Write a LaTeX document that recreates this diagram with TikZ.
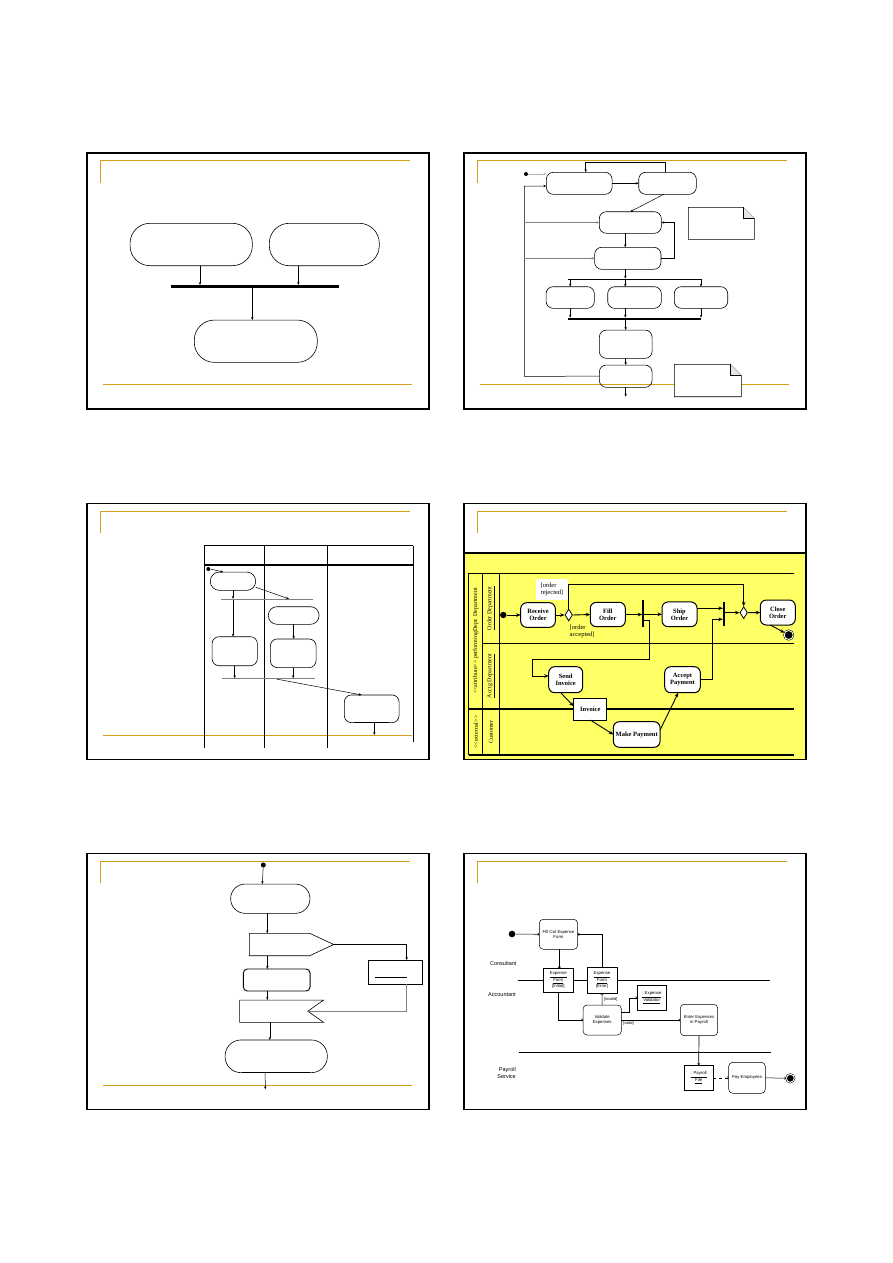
\documentclass[tikz,border=0pt]{standalone}
\usepackage{fontspec}
\setmainfont{Liberation Serif}
\newfontfamily\umlsans{Liberation Sans}
\usetikzlibrary{positioning,shapes.geometric,shapes.symbols,arrows.meta}
\definecolor{rulegold}{RGB}{212,160,23}
\definecolor{laneyellow}{RGB}{255,255,102}
\tikzset{
  slide/.style={draw, line width=1.6pt},
  rule/.style={draw=rulegold, line width=0.9pt},
  act/.style={rectangle, draw, line width=0.6pt, inner sep=0pt, outer sep=0pt},
  actr/.style={act, rounded corners=7pt},
  bar/.style={rectangle, fill=black, inner sep=0pt, outer sep=0pt},
  initial/.style={circle, fill=black, inner sep=0pt},
  final/.style={circle, draw, fill=black, line width=0.5pt, double=white, double distance=0.9pt, inner sep=0pt},
  note/.style={rectangle, inner sep=0pt, outer sep=0pt},
  flow/.style={-{Stealth[length=3pt,width=2.4pt]}, line width=0.5pt},
  bigflow/.style={-{Stealth[length=4.5pt,width=3.6pt]}, line width=0.9pt},
  openflow/.style={-{To[length=1.8pt,width=3pt]}, line width=0.5pt},
  lane/.style={line width=1.3pt},
  deptact/.style={act, fill=white, line width=1pt, rounded corners=6pt, align=center, font=\fontsize{6.5}{7}\selectfont\bfseries},
  expact/.style={act, fill=white, line width=0.5pt, rounded corners=4pt, align=center, font=\umlsans\fontsize{4.3}{5}\selectfont},
  expobj/.style={act, fill=white, line width=0.5pt, align=center, font=\umlsans\fontsize{4.3}{5}\selectfont},
  lanelabel/.style={font=\umlsans\fontsize{5.5}{6.5}\selectfont, inner sep=0pt},
  vlabel/.style={rotate=90, inner sep=0pt, font=\fontsize{6}{7}\selectfont}
}

\begin{document}
\begin{tikzpicture}[x=1pt, y=-1pt]
\useasboundingbox (0,0) rectangle (893,1263);

% yellow area of the swimlane slide
\fill[laneyellow] (463.7,552.7) rectangle (805.3,759.3);

% slide frames and gold rules
\foreach \xa/\ya in {86.7/152.7, 463.7/152.7, 86.7/503.3, 463.7/503.3, 86.7/853.3, 463.7/853.3}{
  \draw[slide] (\xa,\ya) rectangle ++(342.3,256);
  \draw[rule] (\xa+13.6,\ya+30) -- ++(0,-22) -- ++(309.7,0);
}
\foreach \xa/\ya in {86.7/152.7, 463.7/152.7, 86.7/503.3, 86.7/853.3}
  \draw[rule] (\xa+16,\ya+231.8) -- ++(309.5,0);

% slide 1: join
\node[act, rounded corners=20pt, minimum width=122.3pt, minimum height=42.4pt] (s1a) at (191.2,244.5) {};
\node[act, rounded corners=20pt, minimum width=110pt, minimum height=42.4pt] (s1b) at (324.3,244.5) {};
\node[bar, minimum width=168pt, minimum height=2.6pt] (s1join) at (255,286.3) {};
\node[act, rounded corners=20pt, minimum width=123pt, minimum height=42.3pt] (s1c) at (255.8,341.2) {};
\draw[flow] ([xshift=8.8pt]s1a.south) -- ([xshift=8.8pt]s1a.south |- s1join.north);
\draw[flow] ([xshift=-26pt]s1b.south) -- ([xshift=-26pt]s1b.south |- s1join.north);
\draw[flow] ([xshift=-2.7pt]s1join.south) -- ([xshift=-2.7pt]s1join.south |- s1c.north);

% slide 2: loops, fork and join
\node[initial, minimum size=4pt] (s2i) at (526,174) {};
\node[actr, minimum width=65.7pt, minimum height=22pt] (s2a) at (579.2,183.3) {};
\node[actr, minimum width=57.6pt, minimum height=22pt] (s2b) at (667.5,183.3) {};
\node[actr, minimum width=62pt, minimum height=21.6pt] (s2c) at (630.3,222.5) {};
\node[actr, minimum width=66.3pt, minimum height=22pt] (s2d) at (627.8,258.3) {};
\node[bar, minimum width=132.7pt, minimum height=0.8pt] (s2fork) at (634.35,279) {};
\node[actr, minimum width=48.3pt, minimum height=21.6pt] (s2e) at (570.2,297.5) {};
\node[actr, minimum width=53.6pt, minimum height=21.6pt] (s2f) at (634.5,297.5) {};
\node[actr, minimum width=53.4pt, minimum height=21.6pt] (s2g) at (701,297.5) {};
\node[bar, minimum width=132.7pt, minimum height=2pt] (s2join) at (634.35,318.7) {};
\node[actr, minimum width=52.7pt, minimum height=28.3pt] (s2h) at (625.7,344.2) {};
\node[actr, minimum width=52.7pt, minimum height=22.3pt] (s2k) at (625.7,376.2) {};
\node[note, minimum width=66pt, minimum height=32pt] (s2n1) at (721.3,223.3) {};
\node[note, minimum width=67pt, minimum height=32.4pt] (s2n2) at (707.8,380.5) {};
\foreach \n in {s2n1,s2n2}{
  \draw[line width=0.6pt, fill=white] (\n.south west) -- (\n.north west) -- ([xshift=-11pt]\n.north east)
    -- ([yshift=-11pt]\n.north east) -- (\n.south east) -- cycle;
  \draw[line width=0.5pt, fill=gray!20] ([xshift=-11pt]\n.north east) -- ([xshift=-11pt,yshift=-11pt]\n.north east)
    -- ([yshift=-11pt]\n.north east);
}
\coordinate (s2lt) at (524.3,186);
\coordinate (s2lb) at (524.3,376.3);
\coordinate (s2end) at (625.7,396.7);
\draw[flow, draw=gray!60, line width=0.9pt] (s2i) -- (s2i -| s2a.west);
\draw[flow] (s2a.east) -- (s2b.west);
\draw[flow] ([xshift=-2pt]s2b.north) -- ++(0,-10) -| ([xshift=6.5pt]s2a.north);
\draw[flow] ([xshift=-3.8pt]s2b.south) -- (s2c.north);
\draw[flow] ([xshift=-5pt]s2c.south) -- ([xshift=-5pt]s2c.south |- s2d.north);
\draw[flow] (s2d.east) -- ++(13.3,0) |- (s2c.east);
\draw[flow] (s2k.west) -- (s2lb) -- (s2lt) -- ([yshift=-2.7pt]s2a.west);
\draw[flow, draw=gray] (s2lt |- s2c.west) -- (s2c.west);
\draw[flow, draw=gray] (s2lt |- s2d.west) -- (s2d.west);
\draw[flow] ([xshift=-2.5pt]s2d.south) -- ([xshift=-2.5pt]s2d.south |- s2fork.north);
\draw[flow] (s2fork.south -| s2e.north) -- (s2e.north);
\draw[flow] ([xshift=-9.2pt]s2f.north |- s2fork.south) -- ([xshift=-9.2pt]s2f.north);
\draw[flow] (s2fork.south -| s2g.north) -- (s2g.north);
\draw[flow] (s2e.south) -- (s2e.south |- s2join.north);
\draw[flow] ([xshift=-9.2pt]s2f.south) -- ([xshift=-9.2pt]s2f.south |- s2join.north);
\draw[flow] (s2g.south) -- (s2g.south |- s2join.north);
\draw[flow] (s2join.south -| s2h.north) -- (s2h.north);
\draw[flow] (s2h.south) -- (s2k.north);
\draw[flow] (s2k.south) -- (s2end);

% slide 3: partitions
\draw[line width=0.8pt] (204.3,545.7) -- (413.3,545.7);
\draw[line width=1.2pt] (204.3,565) -- (413.3,565);
\foreach \xl/\yl in {204.3/747.7, 264/747.7, 327.7/747.7, 413.3/741.7}
  \draw[line width=0.8pt] (\xl,545.7) -- (\xl,\yl);
\node[initial, minimum size=4pt] (s3i) at (208.3,569) {};
\node[act, rounded corners=9pt, minimum width=45.4pt, minimum height=18.3pt] (s3a) at (233,581.2) {};
\node[bar, fill=gray, minimum width=92pt, minimum height=0.8pt] (s3fork) at (266.7,599.3) {};
\node[act, rounded corners=8.5pt, minimum width=50.7pt, minimum height=17.6pt] (s3b) at (293.7,615.5) {};
\node[actr, minimum width=45.3pt, minimum height=29pt] (s3c) at (234.7,651.2) {};
\node[actr, minimum width=45.7pt, minimum height=28.7pt] (s3d) at (293.2,653.3) {};
\node[bar, fill=gray, minimum width=92.7pt, minimum height=0.8pt] (s3join) at (268.7,678.7) {};
\node[actr, minimum width=54.7pt, minimum height=27.7pt] (s3e) at (371.7,708.8) {};
\coordinate (s3end) at (374.3,735);
\draw[line width=1.5pt] ([xshift=-17.4pt]s3e.south) -- ([xshift=17.6pt]s3e.south);
\draw[flow] (s3i.east) -- ([xshift=-9.7pt]s3a.north);
\draw[flow] (s3a.south) -- (s3a.south |- s3fork.north);
\draw[flow] ([yshift=-6pt]s3a.east) -- ([xshift=-4.7pt]s3b.north |- s3fork.north);
\draw[flow] (s3fork.south -| s3a.south) -- (s3a.south |- s3c.north);
\draw[flow] (s3b.south) -- (s3b.south |- s3d.north);
\draw[flow] (s3c.south) -- (s3c.south |- s3join.north);
\draw[flow] (s3d.south) -- (s3d.south |- s3join.north);
\draw[flow] ([xshift=8pt]s3join.south) -- ([xshift=-10pt]s3e.north);
\draw[flow] ([xshift=2.6pt]s3e.south) -- (s3end);

% slide 4: swimlanes
\draw[line width=1.6pt] (463.7,552.7) -- (805.3,552.7);
\draw[lane] (468.7,573.3) -- (794.3,573.3);
\draw[lane] (482.7,643.3) -- (794.3,643.3);
\draw[lane] (468.7,709) -- (794.3,709);
\draw[lane] (468.7,755) -- (794.3,755);
\foreach \xl in {468.7, 482.7, 499.3}
  \draw[line width=1pt] (\xl,573.3) -- (\xl,755);
\node[vlabel] (s4v1) at (475.7,641) {<\kern0pt<attribute>\kern0pt> performingDept: Department};
\node[vlabel] (s4v2) at (475.7,732) {<\kern0pt<external>\kern0pt>};
\node[vlabel] (s4v3) at (491,608.3) {\underline{Order Department}};
\node[vlabel] (s4v4) at (491,676) {\underline{Acctg Department}};
\node[vlabel] (s4v5) at (491,732) {Customer};

\node[initial, minimum size=6.4pt] (s4i) at (503.3,615) {};
\node[deptact, minimum width=34.6pt, minimum height=24.6pt] (rcv) at (538,615) {Receive\\Order};
\node[diamond, draw, fill=white, line width=0.8pt, inner sep=0pt, minimum width=7.5pt, minimum height=12pt] (dec1) at (568.7,615) {};
\node[fill=white, inner sep=1pt, minimum width=32pt, minimum height=21pt, align=left, font=\fontsize{6.5}{7.5}\selectfont] (rej) at (552,589.5) {[order\\ rejected]};
\node[deptact, minimum width=35pt, minimum height=24.4pt] (fillo) at (607.8,614.5) {Fill\\Order};
\node[anchor=north west, inner sep=0pt, align=left, font=\fontsize{6.5}{7.5}\selectfont] (acc) at (569.5,624.5) {[order\\ accepted]};
\node[bar, minimum width=1.6pt, minimum height=26.7pt] (fork1) at (643,613.3) {};
\node[deptact, minimum width=35pt, minimum height=24.7pt] (ship) at (679.5,614.3) {Ship\\Order};
\node[bar, minimum width=1.6pt, minimum height=24.3pt] (join1) at (723.7,613.8) {};
\node[diamond, draw, fill=white, line width=0.8pt, inner sep=0pt, minimum width=7.5pt, minimum height=12pt] (dec2) at (743.7,612.7) {};
\node[deptact, minimum width=35pt, minimum height=25pt] (close) at (777.8,612.5) {Close\\Order};
\node[final, minimum size=9pt] (fin4) at (788.7,635) {};
\node[deptact, minimum width=34pt, minimum height=26pt] (send) at (565.7,679.7) {Send\\Invoice};
\node[deptact, minimum width=35.6pt, minimum height=26pt] (accpay) at (682.5,679.7) {Accept\\Payment};
\node[act, fill=white, line width=1pt, minimum width=33.3pt, minimum height=21.7pt, font=\fontsize{6.5}{7}\selectfont\bfseries] (inv) at (590.3,709.2) {Invoice};
\node[deptact, minimum width=46.7pt, minimum height=25.6pt] (make) at (636.7,734.5) {Make Payment};
\coordinate (s4a) at (649.7,659.3);
\coordinate (s4b) at (532.7,659.3);
\draw[bigflow] (s4i) -- (rcv.west);
\draw[bigflow] (rcv.east) -- (dec1.west);
\draw[bigflow] (dec1.north) -- ++(0,-24) -| (dec2.north);
\draw[bigflow] (dec1.east) -- (fillo.west);
\draw[bigflow] (fillo.east) -- (fillo.east -| fork1.west);
\draw[bigflow] (fork1.east |- ship.west) -- (ship.west);
\draw[bigflow] ([yshift=-6.7pt]fork1.east) -| (s4a) -- (s4b) |- ([yshift=3.7pt]send.west);
\draw[bigflow] ([yshift=6pt]ship.east) -- ([yshift=6pt]ship.east -| join1.west);
\draw[bigflow] (accpay.east) -- ++(11.7,0) |- ([yshift=-5.5pt]join1.west);
\draw[bigflow] (join1.east |- dec2.west) -- (dec2.west);
\draw[bigflow] (dec2.east) -- (close.west);
\draw[bigflow] ([xshift=-7.5pt]close.south) -- (fin4);
\draw[bigflow] ([xshift=-5pt]send.south) -- ([yshift=3pt]inv.west);
\draw[bigflow] (inv.south) -- (make.west);
\draw[bigflow] ([yshift=4.5pt]make.east) -- ([xshift=-4.2pt]accpay.south);

% slide 5: signals
\node[initial, minimum size=5pt] (s5i) at (263.3,865) {};
\node[act, rounded corners=14.5pt, minimum width=79.3pt, minimum height=29.3pt] (s5a) at (270.3,898.7) {};
\node[signal, draw, line width=0.6pt, inner sep=0pt, outer sep=0pt, signal to=east, signal pointer angle=50, minimum width=84.4pt, minimum height=22.4pt] (s5snd) at (279.5,944.5) {};
\node[act, rounded corners=4pt, line width=0.9pt, minimum width=66.7pt, minimum height=22pt] (s5b) at (276.7,980) {};
\node[act, minimum width=54pt, minimum height=24.3pt] (s5obj) at (395.3,972.2) {};
\node[signal, draw, line width=0.6pt, inner sep=0pt, outer sep=0pt, signal to=nowhere, signal from=east, signal pointer angle=70, minimum width=84pt, minimum height=22.3pt] (s5rcv) at (273.7,1011.2) {};
\node[act, rounded corners=16pt, minimum width=102.3pt, minimum height=32.7pt] (s5c) at (276.2,1056.3) {};
\coordinate (s5end) at (265.3,1089.3);
\draw[line width=1.3pt] (s5obj.north east) -- (s5obj.south east);
\draw[line width=0.7pt] ([xshift=6.7pt,yshift=-5.5pt]s5obj.west) -- ([xshift=-15.6pt,yshift=-5.5pt]s5obj.east);
\draw[line width=1.5pt] ([xshift=-34pt]s5c.south) -- ([xshift=33.8pt]s5c.south);
\draw[flow] (s5i) -- ([xshift=-8pt]s5a.north);
\draw[flow] ([xshift=-3pt]s5a.south) -- ([xshift=-3pt]s5a.south |- s5snd.north);
\draw[flow] ([xshift=-9.4pt]s5b.north |- s5snd.south) -- ([xshift=-9.4pt]s5b.north);
\draw[flow] ([xshift=-9.4pt]s5b.south) -- ([xshift=-9.4pt]s5b.south |- s5rcv.north);
\draw[flow] ([xshift=-6.4pt]s5c.north |- s5rcv.south) -- ([xshift=-6.4pt]s5c.north);
\draw[flow] ([xshift=-11pt]s5c.south) -- (s5end);
\draw[flow] (s5snd.east) -| ([xshift=11.4pt]s5obj.north);
\draw[flow, draw=gray] ([xshift=11.4pt]s5obj.south) |- (s5rcv.east);

% slide 6: expense claim
\draw[line width=0.5pt] (517.7,980) -- (770.3,980);
\draw[line width=0.5pt] (518.7,1052.3) -- (771,1052.3);
\draw[line width=1.2pt] (681,1052.3) -- (722,1052.3);
\node[lanelabel] (s6l1) at (503.3,963.3) {Consultant};
\node[lanelabel] (s6l2) at (502,995) {Accountant};
\node[lanelabel, anchor=east, align=right] (s6l3) at (516,1073) {Payroll\\Service};
\node[initial, minimum size=6.6pt] (s6i) at (512,934) {};
\node[expact, minimum width=38.4pt, minimum height=30pt] (fillout) at (558.5,934.3) {Fill Out Expense\\Form};
\node[expobj, minimum width=29.3pt, minimum height=24pt] (form1) at (558.3,980.3) {\underline{Expense}\\\underline{Form}\\{[Initial]}};
\node[expobj, minimum width=30pt, minimum height=26pt] (form2) at (602,980.3) {\underline{Expense}\\\underline{Form}\\{[Error]}};
\node[expact, minimum width=38.3pt, minimum height=30pt] (valid) at (602.2,1020) {Validate\\Expenses};
\node[expobj, minimum width=29.3pt, minimum height=25.7pt] (vldr) at (651.7,997.8) {\underline{: Expense}\\\underline{Validator}};
\node[expact, minimum width=37.4pt, minimum height=31.4pt] (enter) at (699,1020) {Enter Expenses\\in Payroll};
\node[expobj, minimum width=28.7pt, minimum height=25.7pt] (pfile) at (698.7,1077.8) {\underline{: Payroll}\\\underline{File}};
\node[expact, minimum width=36.6pt, minimum height=31pt] (payemp) at (747,1077.8) {Pay Employees};
\node[final, minimum size=8pt] (fin6) at (790.3,1078.3) {};
\draw[openflow] (s6i) -- (fillout.west);
\draw[openflow, line width=0.8pt] ([xshift=0.8pt]fillout.south) -- ([xshift=0.8pt]fillout.south |- form1.north);
\draw[openflow, line width=0.7pt] (form2.north) |- (fillout.east);
\draw[openflow, line width=0.8pt] (form1.south) |- (valid.west);
\draw[openflow] (valid.north) -- node[right, inner sep=1.5pt, font=\umlsans\fontsize{4}{5}\selectfont] {[invalid]} (form2.south);
\draw[openflow] ([yshift=7.7pt]valid.east) -- ++(7.4,0) |- (vldr.west);
\draw[openflow] (valid.east) -- node[pos=0.12, below, inner sep=1.5pt, font=\umlsans\fontsize{4}{5}\selectfont] {[valid]} (enter.west);
\draw[openflow, line width=0.7pt] (enter.south) -- (pfile.north);
\draw[openflow, dashed] (pfile.east) -- (payemp.west);
\draw[openflow] (payemp.east) -- (fin6);
\end{tikzpicture}
\end{document}
